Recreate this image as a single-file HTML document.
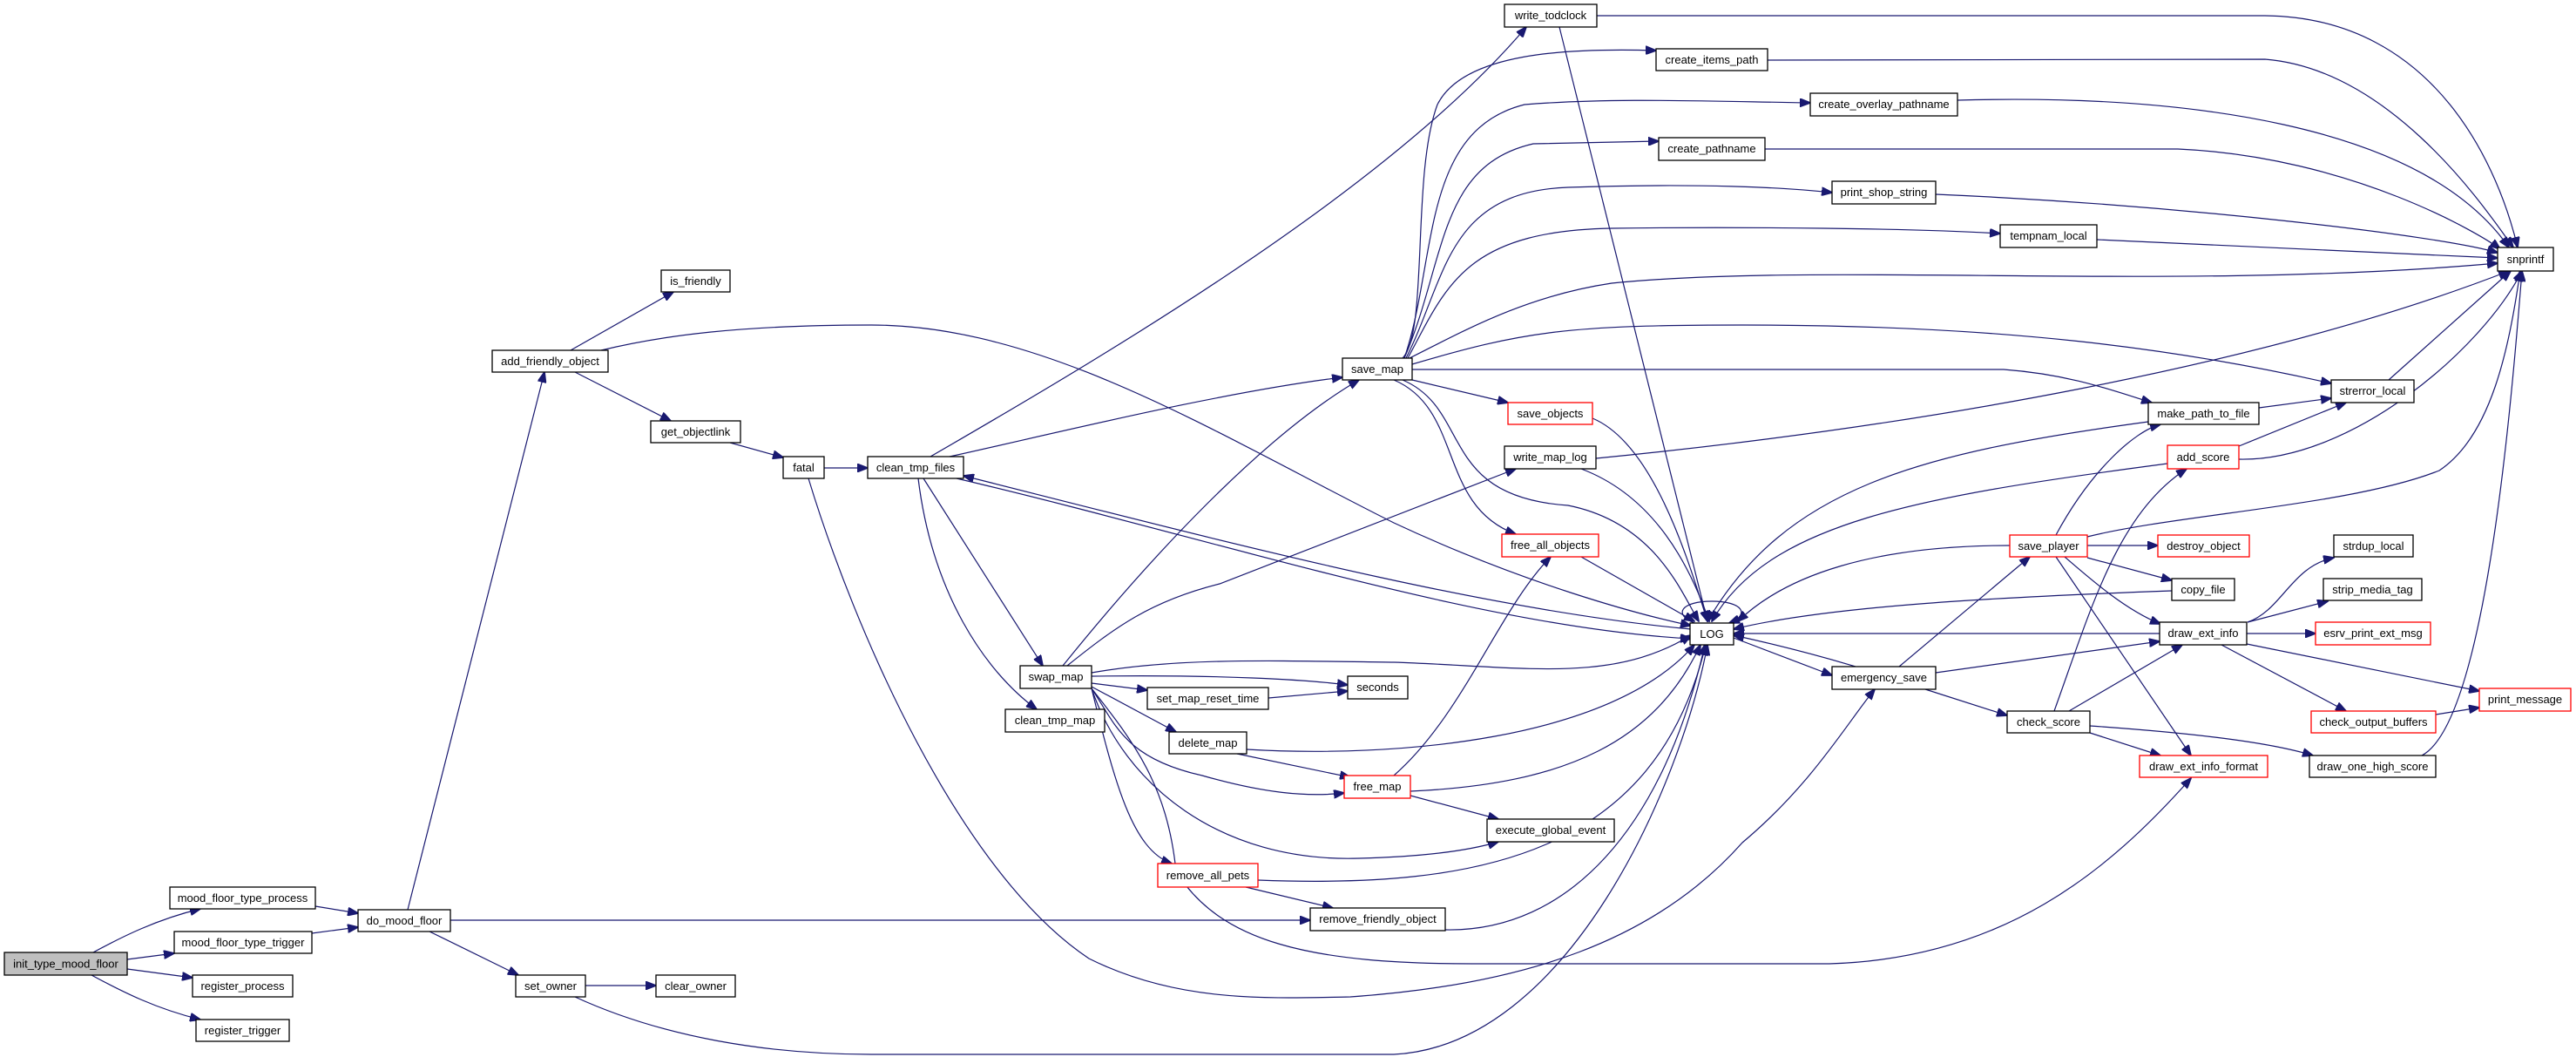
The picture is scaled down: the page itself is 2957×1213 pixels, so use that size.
<!DOCTYPE html>
<html><head><meta charset="utf-8"><style>
html,body{margin:0;padding:0;background:#fff;}
svg{display:block;}
text{font-family:"Liberation Sans",sans-serif;font-size:13px;fill:#000;}
.e{fill:none;stroke:#191970;stroke-width:1.2;marker-end:url(#a);}
.n{fill:#fff;stroke:#000;stroke-width:1.3;}
.r{fill:#fff;stroke:#ff0000;stroke-width:1.3;}
</style></head><body>
<svg width="2957" height="1213" viewBox="0 0 2957 1213" xmlns="http://www.w3.org/2000/svg">
<defs><marker id="a" markerWidth="13" markerHeight="10" refX="12" refY="5" orient="auto" markerUnits="userSpaceOnUse"><path d="M0,0 L13,5 L0,10 z" fill="#191970" stroke="#191970"/></marker></defs>
<g>
<path class="e" d="M105,1094 C140,1075 180,1055 230,1043"/>
<path class="e" d="M146,1101 L200,1094"/>
<path class="e" d="M146,1112 L221,1122"/>
<path class="e" d="M105,1119 C140,1138 180,1158 230,1170"/>
<path class="e" d="M362,1040 L411,1048"/>
<path class="e" d="M358,1071 L411,1064"/>
<path class="e" d="M468,1044 L625,427"/>
<path class="e" d="M493,1069 L595,1119"/>
<path class="e" d="M517,1056 L1504,1056"/>
<path class="e" d="M655,402 L773,335"/>
<path class="e" d="M660,427 L770,483"/>
<path class="e" d="M690,402 C760,385 850,373 1000,373 C1200,373 1400,500 1600,600 C1750,670 1880,705 1941,718"/>
<path class="e" d="M838,508 L899,525"/>
<path class="e" d="M946,537 L996,537"/>
<path class="e" d="M928,549 C980,720 1100,1000 1250,1100 C1350,1150 1450,1146 1550,1144 C1750,1130 1900,1080 2000,967 C2080,900 2120,830 2152,791"/>
<path class="e" d="M672,1131 L753,1131"/>
<path class="e" d="M660,1144 C760,1190 880,1210 1000,1210 L1600,1210 C1800,1200 1930,900 1960,740"/>
<path class="e" d="M1659,1067 C1800,1070 1910,950 1957,740"/>
<path class="e" d="M1068,524 C1300,390 1600,210 1752,31"/>
<path class="e" d="M1090,524 C1200,500 1400,450 1541,433"/>
<path class="e" d="M1098,549 C1400,620 1700,720 1941,733"/>
<path class="e" d="M1941,722 C1700,700 1400,620 1106,546"/>
<path class="e" d="M1060,549 L1197,764"/>
<path class="e" d="M1054,549 C1070,680 1130,770 1190,814"/>
<path class="e" d="M1220,764 C1320,640 1450,500 1560,436"/>
<path class="e" d="M1225,764 C1280,720 1320,690 1400,670 L1740,538"/>
<path class="e" d="M1253,772 C1350,755 1450,758 1600,760 C1750,765 1850,785 1941,729"/>
<path class="e" d="M1253,776 C1400,774 1500,780 1547,786"/>
<path class="e" d="M1253,784 L1317,792"/>
<path class="e" d="M1253,788 L1350,840"/>
<path class="e" d="M1253,790 C1280,830 1290,870 1380,890 C1450,910 1500,915 1543,910"/>
<path class="e" d="M1253,790 C1290,900 1400,990 1560,985 C1640,983 1690,975 1720,966"/>
<path class="e" d="M1253,790 C1280,900 1300,975 1345,991"/>
<path class="e" d="M1253,790 C1300,850 1340,900 1350,1000 C1400,1080 1500,1107 1700,1106 L2100,1106 C2300,1100 2420,1000 2515,893"/>
<path class="e" d="M1456,801 L1547,793"/>
<path class="e" d="M1431,860 C1600,870 1850,850 1945,740"/>
<path class="e" d="M1420,865 L1550,892"/>
<path class="e" d="M1600,890 C1680,820 1720,700 1780,639"/>
<path class="e" d="M1619,908 C1800,900 1900,850 1952,740"/>
<path class="e" d="M1619,913 L1720,940"/>
<path class="e" d="M1444,1010 C1700,1020 1900,980 1958,740"/>
<path class="e" d="M1430,1018 L1530,1042"/>
<path class="e" d="M1610,411 C1640,380 1620,200 1650,120 C1680,60 1800,55 1901,58"/>
<path class="e" d="M1612,411 C1650,300 1630,150 1750,120 C1850,112 1950,116 2078,118"/>
<path class="e" d="M1612,411 C1660,300 1650,190 1760,165 L1904,162"/>
<path class="e" d="M1614,411 C1660,320 1660,220 1800,215 C1950,210 2050,215 2103,221"/>
<path class="e" d="M1616,411 C1660,330 1680,265 1850,262 C2000,260 2200,262 2296,268"/>
<path class="e" d="M1618,411 C1680,380 1750,340 1850,325 C2100,300 2500,335 2867,302"/>
<path class="e" d="M1621,418 C1750,380 1800,373 2000,373 C2300,373 2500,400 2676,440"/>
<path class="e" d="M1621,424 L2300,424 C2380,430 2430,450 2470,462"/>
<path class="e" d="M1621,436 L1731,462"/>
<path class="e" d="M1600,436 C1680,470 1650,580 1740,613"/>
<path class="e" d="M1610,436 C1690,470 1650,570 1800,580 C1900,600 1930,680 1950,713"/>
<path class="e" d="M1833,18 L2600,18 C2800,20 2870,200 2890,284"/>
<path class="e" d="M1790,31 L1960,713"/>
<path class="e" d="M2029,69 L2600,68 C2750,80 2860,250 2885,284"/>
<path class="e" d="M2247,115 C2500,108 2780,140 2880,284"/>
<path class="e" d="M2026,171 L2500,171 C2700,180 2850,270 2870,286"/>
<path class="e" d="M2222,223 C2500,235 2800,270 2867,290"/>
<path class="e" d="M2407,275 L2867,296"/>
<path class="e" d="M1828,480 C1900,510 1940,650 1960,713"/>
<path class="e" d="M1832,526 C2200,490 2600,420 2880,311"/>
<path class="e" d="M1815,538 C1900,570 1940,650 1962,713"/>
<path class="e" d="M1815,639 L1945,713"/>
<path class="e" d="M1990,732 L2103,775"/>
<path class="e" d="M2130,765 C2080,750 2040,740 1990,729"/>
<path class="e" d="M1945,715 C1920,705 1930,690 1965,690 C2000,690 2010,705 1985,715"/>
<path class="e" d="M2180,765 L2330,639"/>
<path class="e" d="M2222,772 L2479,736"/>
<path class="e" d="M2210,791 L2304,821"/>
<path class="e" d="M2307,626 C2150,626 2050,660 1995,713"/>
<path class="e" d="M2360,614 C2400,540 2450,495 2480,487"/>
<path class="e" d="M2396,616 C2500,590 2700,580 2800,540 C2860,500 2880,400 2893,311"/>
<path class="e" d="M2396,626 L2477,626"/>
<path class="e" d="M2396,640 L2493,666"/>
<path class="e" d="M2370,639 C2400,665 2440,700 2480,716"/>
<path class="e" d="M2360,639 L2515,867"/>
<path class="e" d="M2593,468 L2676,457"/>
<path class="e" d="M2466,484 C2200,520 2050,560 1960,713"/>
<path class="e" d="M2570,512 L2693,462"/>
<path class="e" d="M2570,527 C2700,530 2850,400 2895,311"/>
<path class="e" d="M2488,532 C2200,570 2030,600 1965,713"/>
<path class="e" d="M2493,678 C2300,685 2100,695 1990,722"/>
<path class="e" d="M2479,727 L1990,727"/>
<path class="e" d="M2580,714 C2620,700 2630,650 2679,640"/>
<path class="e" d="M2580,714 L2672,690"/>
<path class="e" d="M2579,727 L2658,727"/>
<path class="e" d="M2579,739 L2846,793"/>
<path class="e" d="M2550,740 L2693,816"/>
<path class="e" d="M2796,820 L2846,812"/>
<path class="e" d="M2358,816 C2400,700 2430,590 2510,538"/>
<path class="e" d="M2375,816 L2505,740"/>
<path class="e" d="M2399,841 L2480,867"/>
<path class="e" d="M2399,833 C2500,840 2600,850 2655,867"/>
<path class="e" d="M2780,867 C2850,830 2880,500 2895,311"/>
<path class="e" d="M2742,436 L2882,311"/>
</g>
<g>
<rect x="5" y="1093" width="141" height="26" fill="#bfbfbf" stroke="#000" stroke-width="1.3"/><text x="75.5" y="1110.5" text-anchor="middle">init_type_mood_floor</text>
<rect class="n" x="195" y="1018" width="167" height="25"/><text x="278.5" y="1035" text-anchor="middle">mood_floor_type_process</text>
<rect class="n" x="200" y="1069" width="158" height="25"/><text x="279" y="1086" text-anchor="middle">mood_floor_type_trigger</text>
<rect class="n" x="221" y="1119" width="115" height="25"/><text x="278.5" y="1136" text-anchor="middle">register_process</text>
<rect class="n" x="225" y="1170" width="107" height="25"/><text x="278.5" y="1187" text-anchor="middle">register_trigger</text>
<rect class="n" x="411" y="1044" width="106" height="25"/><text x="464" y="1061" text-anchor="middle">do_mood_floor</text>
<rect class="n" x="565" y="402" width="133" height="25"/><text x="631.5" y="419" text-anchor="middle">add_friendly_object</text>
<rect class="n" x="759" y="310" width="79" height="25"/><text x="798.5" y="327" text-anchor="middle">is_friendly</text>
<rect class="n" x="747" y="483" width="103" height="25"/><text x="798.5" y="500" text-anchor="middle">get_objectlink</text>
<rect class="n" x="899" y="524" width="47" height="25"/><text x="922.5" y="541" text-anchor="middle">fatal</text>
<rect class="n" x="592" y="1119" width="80" height="25"/><text x="632" y="1136" text-anchor="middle">set_owner</text>
<rect class="n" x="753" y="1119" width="91" height="25"/><text x="798.5" y="1136" text-anchor="middle">clear_owner</text>
<rect class="n" x="996" y="524" width="110" height="25"/><text x="1051" y="541" text-anchor="middle">clean_tmp_files</text>
<rect class="n" x="1171" y="764" width="82" height="26"/><text x="1212" y="781" text-anchor="middle">swap_map</text>
<rect class="n" x="1154" y="814" width="114" height="26"/><text x="1211" y="831" text-anchor="middle">clean_tmp_map</text>
<rect class="n" x="1317" y="789" width="139" height="25"/><text x="1386.5" y="806" text-anchor="middle">set_map_reset_time</text>
<rect class="n" x="1342" y="840" width="89" height="25"/><text x="1386.5" y="857" text-anchor="middle">delete_map</text>
<rect class="r" x="1329" y="991" width="115" height="27"/><text x="1386.5" y="1009" text-anchor="middle">remove_all_pets</text>
<rect class="n" x="1504" y="1042" width="155" height="26"/><text x="1581.5" y="1059" text-anchor="middle">remove_friendly_object</text>
<rect class="n" x="1541" y="411" width="80" height="25"/><text x="1581" y="428" text-anchor="middle">save_map</text>
<rect class="n" x="1547" y="776" width="69" height="26"/><text x="1581.5" y="793" text-anchor="middle">seconds</text>
<rect class="r" x="1543" y="890" width="76" height="26"/><text x="1581" y="907" text-anchor="middle">free_map</text>
<rect class="n" x="1727" y="5" width="106" height="26"/><text x="1780" y="22" text-anchor="middle">write_todclock</text>
<rect class="r" x="1731" y="462" width="97" height="25"/><text x="1779.5" y="479" text-anchor="middle">save_objects</text>
<rect class="n" x="1727" y="512" width="105" height="26"/><text x="1779.5" y="529" text-anchor="middle">write_map_log</text>
<rect class="r" x="1724" y="613" width="111" height="26"/><text x="1779.5" y="630" text-anchor="middle">free_all_objects</text>
<rect class="n" x="1707" y="940" width="146" height="26"/><text x="1780" y="957" text-anchor="middle">execute_global_event</text>
<rect class="n" x="1901" y="56" width="128" height="25"/><text x="1965" y="73" text-anchor="middle">create_items_path</text>
<rect class="n" x="1904" y="158" width="122" height="26"/><text x="1965" y="175" text-anchor="middle">create_pathname</text>
<rect class="n" x="1940" y="715" width="50" height="25"/><text x="1965" y="732" text-anchor="middle">LOG</text>
<rect class="n" x="2078" y="107" width="169" height="26"/><text x="2162.5" y="124" text-anchor="middle">create_overlay_pathname</text>
<rect class="n" x="2103" y="208" width="119" height="26"/><text x="2162.5" y="225" text-anchor="middle">print_shop_string</text>
<rect class="n" x="2103" y="765" width="119" height="26"/><text x="2162.5" y="782" text-anchor="middle">emergency_save</text>
<rect class="n" x="2296" y="258" width="111" height="26"/><text x="2351.5" y="275" text-anchor="middle">tempnam_local</text>
<rect class="r" x="2307" y="614" width="89" height="25"/><text x="2351.5" y="631" text-anchor="middle">save_player</text>
<rect class="n" x="2304" y="816" width="95" height="25"/><text x="2351.5" y="833" text-anchor="middle">check_score</text>
<rect class="n" x="2466" y="462" width="127" height="25"/><text x="2529.5" y="479" text-anchor="middle">make_path_to_file</text>
<rect class="r" x="2488" y="511" width="82" height="27"/><text x="2529" y="529" text-anchor="middle">add_score</text>
<rect class="r" x="2477" y="614" width="105" height="25"/><text x="2529.5" y="631" text-anchor="middle">destroy_object</text>
<rect class="n" x="2493" y="664" width="72" height="25"/><text x="2529" y="681" text-anchor="middle">copy_file</text>
<rect class="n" x="2479" y="714" width="100" height="26"/><text x="2529" y="731" text-anchor="middle">draw_ext_info</text>
<rect class="r" x="2456" y="867" width="147" height="25"/><text x="2529.5" y="884" text-anchor="middle">draw_ext_info_format</text>
<rect class="n" x="2676" y="436" width="95" height="26"/><text x="2723.5" y="453" text-anchor="middle">strerror_local</text>
<rect class="n" x="2679" y="614" width="91" height="25"/><text x="2724.5" y="631" text-anchor="middle">strdup_local</text>
<rect class="n" x="2667" y="664" width="113" height="25"/><text x="2723.5" y="681" text-anchor="middle">strip_media_tag</text>
<rect class="r" x="2658" y="714" width="132" height="26"/><text x="2724" y="731" text-anchor="middle">esrv_print_ext_msg</text>
<rect class="r" x="2653" y="816" width="143" height="25"/><text x="2724.5" y="833" text-anchor="middle">check_output_buffers</text>
<rect class="n" x="2651" y="867" width="145" height="25"/><text x="2723.5" y="884" text-anchor="middle">draw_one_high_score</text>
<rect class="n" x="2867" y="284" width="64" height="27"/><text x="2899" y="302" text-anchor="middle">snprintf</text>
<rect class="r" x="2846" y="790" width="105" height="26"/><text x="2898.5" y="807" text-anchor="middle">print_message</text>
</g>
</svg>
</body></html>
